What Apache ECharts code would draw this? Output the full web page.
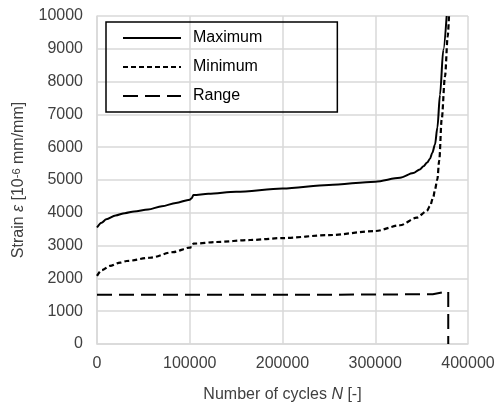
<!DOCTYPE html>
<html><head><meta charset="utf-8">
<script src="https://cdn.jsdelivr.net/npm/echarts@6/dist/echarts.min.js"></script>
<style>html,body{margin:0;padding:0;background:#fff}#c{width:500px;height:408px}</style>
</head><body><div id="c"></div>
<script>
const maxN = [0,5000,10000,20000,30000,40000,55000,70000,85000,100000,102000,104000,120000,150000,200000,250000,300000,326700,341000,348000,352000,356000,359000,361500,364400,367000,369800,373400,377000];
const maxStrain = [3550,3700,3800,3920,3990,4040,4100,4200,4300,4400,4440,4540,4580,4640,4740,4850,4950,5066,5210,5320,5420,5530,5650,5830,6080,6600,7600,8970,10000];
const minN = [0,5000,14000,25000,32000,57000,82000,100000,102000,104000,129000,165000,200000,250000,300000,326700,344700,355500,359000,362600,364400,366900,369000,371600,375200,378100,379500];
const minStrain = [2076,2250,2380,2480,2530,2630,2800,2940,2950,3060,3110,3170,3230,3320,3445,3620,3850,4052,4204,4480,4711,5015,5600,6839,8155,9370,10000];
const rangeN = [0,50000,100000,150000,200000,250000,300000,350000,362000,373000,378700,378700];
const rangeStrain = [1500,1500,1500,1500,1500,1500,1510,1515,1520,1580,1600,0];
const xTicks = [0,100000,200000,300000,400000];
const yTicks = [0,1000,2000,3000,4000,5000,6000,7000,8000,9000,10000];
const seriesNames = ['Maximum','Minimum','Range'];

const zip = (a,b) => a.map((v,i)=>[v,b[i]]);
const FONT = 'Liberation Sans, Arial, sans-serif';
const TXT = '#404040';
const chart = echarts.init(document.getElementById('c'), null, {renderer:'canvas'});
chart.setOption({
  animation:false,
  textStyle:{fontFamily:FONT},
  grid:{left:97,right:32,top:16,bottom:63,containLabel:false},
  legend:{
    orient:'vertical', left:106, top:22,
    data:seriesNames,
    itemWidth:58, itemHeight:14, itemGap:9,
    itemStyle:{opacity:0},
    borderColor:'#000', borderWidth:1.5,
    padding:[6,75,6,16],
    textStyle:{fontSize:16,color:'#000',fontFamily:FONT,lineHeight:20,padding:[0,0,0,7]}
  },
  xAxis:{
    type:'value', min:xTicks[0], max:xTicks[xTicks.length-1], interval:100000,
    name:'Number of cycles {it|N} [-]', nameLocation:'middle', nameGap:43,
    nameTextStyle:{fontSize:16,color:TXT,fontFamily:FONT,rich:{it:{fontStyle:'italic',fontSize:16,color:TXT,fontFamily:FONT}}},
    axisLine:{show:true,lineStyle:{color:'#d9d9d9',width:1.5}},
    axisTick:{show:false},
    axisLabel:{fontSize:16,color:TXT,margin:12,fontFamily:FONT,formatter:v=>String(v)},
    splitLine:{show:true,lineStyle:{color:'#d9d9d9',width:1.5}}
  },
  yAxis:{
    type:'value', min:yTicks[0], max:yTicks[yTicks.length-1], interval:1000,
    name:'Strain {it|ε} [10{sup|-6} mm/mm]', nameLocation:'middle', nameGap:70,
    nameTextStyle:{fontSize:16,color:TXT,fontFamily:FONT,rich:{
      it:{fontStyle:'italic',fontSize:16,color:TXT,fontFamily:FONT},
      sup:{fontSize:11,color:TXT,fontFamily:FONT,verticalAlign:'top',lineHeight:16}
    }},
    axisLine:{show:true,lineStyle:{color:'#d9d9d9',width:1.5}},
    axisTick:{show:false},
    axisLabel:{fontSize:16,color:TXT,margin:14,fontFamily:FONT,formatter:v=>String(v)},
    splitLine:{show:true,lineStyle:{color:'#d9d9d9',width:1.5}}
  },
  series:[
    {name:seriesNames[0],type:'line',data:zip(maxN,maxStrain),showSymbol:false,symbol:'none',smooth:0.3,smoothMonotone:'x',
     lineStyle:{color:'#000',width:2},itemStyle:{color:'#000'}},
    {name:seriesNames[1],type:'line',data:zip(minN,minStrain),showSymbol:false,symbol:'none',smooth:0.3,smoothMonotone:'x',
     lineStyle:{color:'#000',width:2.2,type:[5,3]},itemStyle:{color:'#000'}},
    {name:seriesNames[2],type:'line',data:zip(rangeN,rangeStrain),showSymbol:false,symbol:'none',
     lineStyle:{color:'#000',width:2,type:[15,7]},itemStyle:{color:'#000'}}
  ]
});
</script></body></html>
